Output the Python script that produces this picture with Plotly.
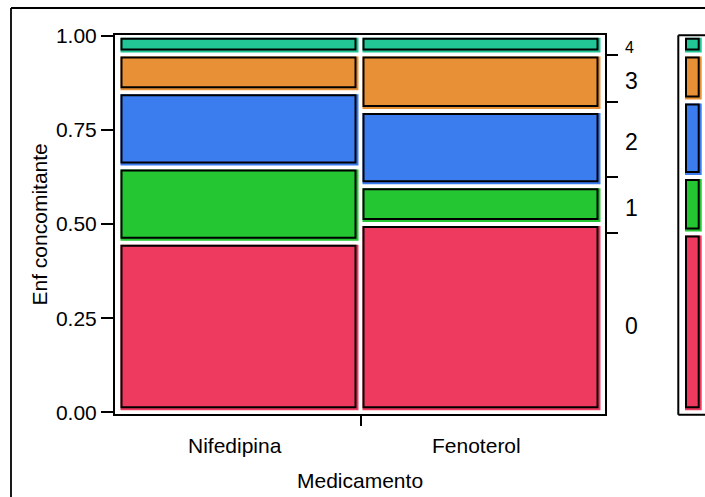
import plotly.graph_objects as go

# Contingency counts: treatment x number of concomitant diseases
medicamento = ["Nifedipina", "Fenoterol"]
niveles = ["0", "1", "2", "3", "4"]
conteos = {
    "Nifedipina": [9, 4, 4, 2, 1],
    "Fenoterol": [10, 2, 4, 3, 1],
}
colores = ["#EE3A5E", "#24C632", "#3B7DEE", "#E89035", "#21C596"]

FONT = "Liberation Sans, Arial, sans-serif"
W, H = 705, 497
L, R, T, B = 115, 0, 35, 83
PLOT_W = W - L - R
PLOT_H = H - T - B

# pixel scales of the mosaic area
X0_PX, PX_X = 118.5, 484.0      # x = 0 at this pixel, pixels per unit
Y0_PX, PX_Y = 412.3, 376.6      # y = 0 at this pixel, pixels per unit
x_dom_end = (605 - L) / PLOT_W
x_range = [(L - X0_PX) / PX_X, (605 - X0_PX) / PX_X]
y_range = [(Y0_PX - (T + PLOT_H)) / PX_Y, (Y0_PX - T) / PX_Y]

# marginal panel on the right
M_LEFT_PX = 678.3
M0_PX, PX_M = 683.0, 20.7
x2_dom = [(M_LEFT_PX - L) / PLOT_W, 1.0]
x2_range = [(M_LEFT_PX - M0_PX) / PX_M, (W - M0_PX) / PX_M]

def paper_x(px):
    return (px - L) / PLOT_W

def paper_y(py):
    return (T + PLOT_H - py) / PLOT_H

GAP = 2.0  # pixel inset of every tile

def tile(xref, x0, x1, y0, y1, color, pxx):
    """Coloured tile with a black outline offset up-left inside it."""
    gx, gy = GAP / pxx, GAP / PX_Y
    fx0, fx1, fy0, fy1 = x0 + gx, x1 - gx, y0 + gy, y1 - gy
    out = [dict(type="rect", xref=xref, yref="y", x0=fx0, x1=fx1, y0=fy0, y1=fy1,
                fillcolor=color, line=dict(width=0), layer="above")]
    out.append(dict(type="rect", xref=xref, yref="y",
                    x0=fx0 + 1 / pxx, x1=fx1 - 3 / pxx,
                    y0=fy0 + 3 / PX_Y, y1=fy1 - 1 / PX_Y,
                    fillcolor="rgba(0,0,0,0)", line=dict(color="black", width=2),
                    layer="above"))
    return out

shapes = []
totales = [sum(conteos[m]) for m in medicamento]
gran_total = sum(totales)

# mosaic columns
centros = []
xa = 0.0
for m, tot in zip(medicamento, totales):
    xb = xa + tot / gran_total
    centros.append((xa + xb) / 2)
    ya = 0.0
    for c, col in zip(conteos[m], colores):
        yb = ya + c / tot
        shapes += tile("x", xa, xb, ya, yb, col, PX_X)
        ya = yb
    xa = xb
cortes_x = []
acc = 0.0
for tot in totales[:-1]:
    acc += tot / gran_total
    cortes_x.append(acc)

# marginal distribution
marg = [sum(conteos[m][i] for m in medicamento) for i in range(len(niveles))]
cum = []
ya = 0.0
mids = []
for c, col in zip(marg, colores):
    yb = ya + c / gran_total
    shapes += tile("x2", 0.0, 1.0, ya, yb, col, PX_M)
    mids.append((ya + yb) / 2)
    cum.append(yb)
    ya = yb

# frame of the marginal panel (open to the right)
mx = paper_x(M_LEFT_PX)
frame = dict(color="black", width=2)
shapes += [
    dict(type="line", xref="paper", yref="paper", x0=mx, x1=mx,
         y0=paper_y(414.8), y1=paper_y(35.2), line=frame),
    dict(type="line", xref="paper", yref="paper", x0=mx, x1=1.05,
         y0=paper_y(35.2), y1=paper_y(35.2), line=frame),
    dict(type="line", xref="paper", yref="paper", x0=mx, x1=1.05,
         y0=paper_y(414.8), y1=paper_y(414.8), line=frame),
]
# outer report border
shapes += [
    dict(type="line", xref="paper", yref="paper", x0=paper_x(11), x1=paper_x(11),
         y0=paper_y(8), y1=paper_y(520), line=dict(color="black", width=1.8)),
    dict(type="line", xref="paper", yref="paper", x0=paper_x(11), x1=1.05,
         y0=paper_y(8), y1=paper_y(8), line=dict(color="black", width=1.8)),
]

fig = go.Figure()
# invisible anchors so both y axes are drawn
fig.add_trace(go.Scatter(x=[0.5], y=[0.5], xaxis="x", yaxis="y", mode="markers",
                         marker=dict(opacity=0), showlegend=False, hoverinfo="skip"))
fig.add_trace(go.Scatter(x=[0.5], y=[0.5], xaxis="x", yaxis="y2", mode="markers",
                         marker=dict(opacity=0), showlegend=False, hoverinfo="skip"))

annotations = []
for name, cx in zip(medicamento, centros):
    annotations.append(dict(text=name, x=cx, xref="x", y=paper_y(445), yref="paper",
                            showarrow=False, xanchor="center", yanchor="middle",
                            xshift=-5, font=dict(family=FONT, size=21, color="black")))
annotations.append(dict(text="Medicamento", x=x_dom_end / 2, xref="paper",
                        y=paper_y(480.5), yref="paper", showarrow=False,
                        xanchor="center", yanchor="middle",
                        font=dict(family=FONT, size=21, color="black")))
annotations.append(dict(text="Enf concomitante", x=paper_x(39), xref="paper",
                        y=0.5, yref="paper", showarrow=False, textangle=-90,
                        xanchor="center", yanchor="middle",
                        font=dict(family=FONT, size=21, color="black")))
for lvl, ym, c in zip(niveles, mids, marg):
    small = c / gran_total < 0.06
    annotations.append(dict(text=lvl, x=paper_x(623), xref="paper", y=ym, yref="y",
                            showarrow=False, xanchor="left", yanchor="middle",
                            yshift=-2 if small else -3,
                            font=dict(family=FONT, size=16 if small else 23,
                                      color="black")))

fig.update_layout(
    width=W, height=H,
    margin=dict(l=L, r=R, t=T, b=B),
    paper_bgcolor="white", plot_bgcolor="white",
    showlegend=False,
    font=dict(family=FONT, color="black"),
    xaxis=dict(domain=[0, x_dom_end], range=x_range, anchor="y",
               tickvals=cortes_x, ticktext=[""] * len(cortes_x),
               ticks="outside", ticklen=10, tickwidth=2, tickcolor="black",
               showline=True, mirror=True, linecolor="black", linewidth=2,
               showgrid=False, zeroline=False, fixedrange=True),
    yaxis=dict(range=y_range, anchor="x",
               tickvals=[0, 0.25, 0.5, 0.75, 1.0],
               ticktext=["0.00", "0.25", "0.50", "0.75", "1.00"],
               ticks="outside", ticklen=12, tickwidth=2, tickcolor="black",
               tickfont=dict(family=FONT, size=21, color="black"),
               showline=True, mirror=True, linecolor="black", linewidth=2,
               showgrid=False, zeroline=False, fixedrange=True),
    yaxis2=dict(range=y_range, overlaying="y", side="right", anchor="x",
                tickmode="array", tickvals=cum[:-1], ticktext=[""] * (len(cum) - 1),
                ticks="outside", ticklen=12, tickwidth=2,
                tickcolor="black", showline=False,
                showgrid=False, zeroline=False, fixedrange=True),
    xaxis2=dict(domain=x2_dom, range=x2_range, anchor="y", visible=False,
                showgrid=False, zeroline=False, fixedrange=True),
    shapes=shapes,
    annotations=annotations,
)

fig.write_html("out.html")
